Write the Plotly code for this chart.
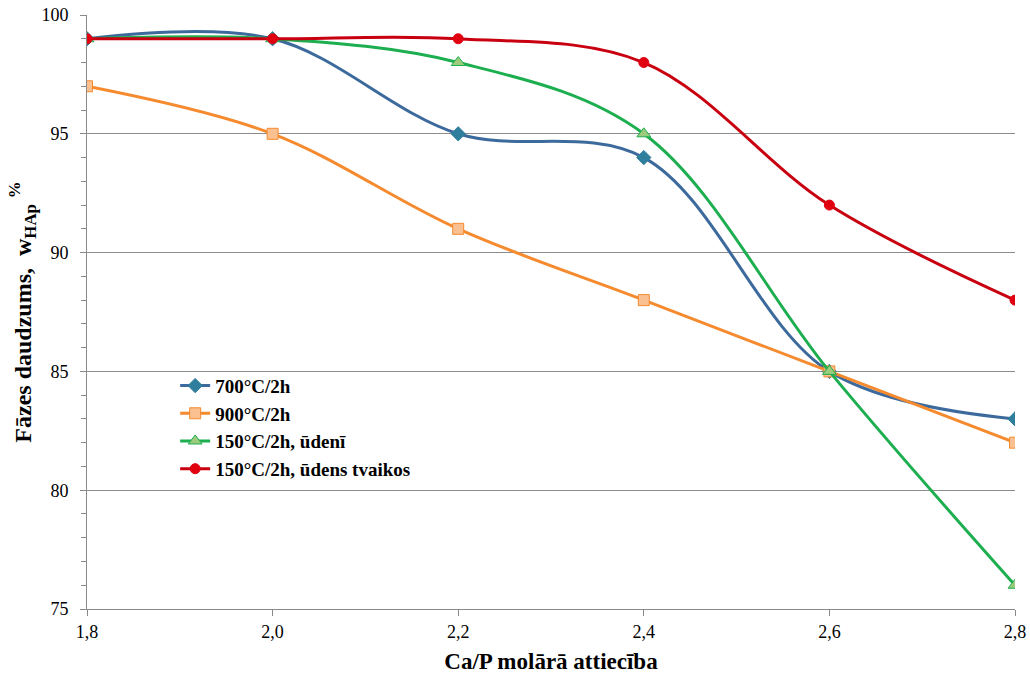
import plotly.graph_objects as go

ca_p = [1.8, 2.0, 2.2, 2.4, 2.6, 2.8]
s700 = [99, 99, 95, 94, 85, 83]
s900 = [97, 95, 91, 88, 85, 82]
s150_water = [99, 99, 98, 95, 85, 76]
s150_steam = [99, 99, 99, 98, 92, 88]

names = ["700°C/2h", "900°C/2h", "150°C/2h, ūdenī", "150°C/2h, ūdens tvaikos"]
series = [s700, s900, s150_water, s150_steam]
line_colors = ["#3C6A9C", "#F58A2E", "#1DAE50", "#C8000F"]
marker_fill = ["#2F7E9E", "#FAC090", "#9BCB7B", "#E00010"]
marker_line = ["#2F7E9E", "#F58A2E", "#1DAE50", "#E00010"]
symbols = ["diamond", "square", "triangle-up", "circle"]
sizes = [11, 11, 12, 10]

fig = go.Figure()
for n, ys, lc, mf, ml, sym, sz in zip(names, series, line_colors, marker_fill, marker_line, symbols, sizes):
    fig.add_trace(go.Scatter(
        x=ca_p, y=ys, name=n, mode="lines+markers",
        line=dict(color=lc, width=3, shape="spline", smoothing=1.0),
        marker=dict(symbol=sym, size=sz, color=mf, line=dict(color=ml, width=1)),
    ))

font_family = "Liberation Serif, Times New Roman, serif"
fig.update_layout(
    width=1030, height=677,
    margin=dict(l=87, r=15, t=15, b=68),
    paper_bgcolor="white", plot_bgcolor="white",
    separators=", ",
    font=dict(family=font_family, color="black", size=18),
    showlegend=True,
    legend=dict(x=0.095, y=0.306, xanchor="left", yanchor="middle",
                font=dict(family=font_family, size=19, color="black", weight="bold"),
                bgcolor="rgba(0,0,0,0)", tracegroupgap=0, itemwidth=30),
    xaxis=dict(
        range=[1.8, 2.8], tickvals=ca_p, tickformat=".1f", automargin=False,
        showgrid=False, showline=True, linecolor="#898989", linewidth=1,
        ticks="outside", ticklen=6, tickcolor="#898989",
        tickfont=dict(family=font_family, size=18, color="black"),
        title=dict(text="Ca/P molārā attiecība", standoff=12,
                   font=dict(family=font_family, size=23, color="black", weight="bold")),
        zeroline=False,
    ),
    yaxis=dict(
        range=[75, 100], tickvals=[75, 80, 85, 90, 95, 100], automargin=False,
        showgrid=True, gridcolor="#8C8C8C", gridwidth=1,
        showline=True, linecolor="#898989", linewidth=1,
        ticks="outside", ticklen=6, tickcolor="#898989", ticklabelstandoff=8,
        minor=dict(dtick=1, ticks="outside", ticklen=5, tickcolor="#898989", showgrid=False),
        tickfont=dict(family=font_family, size=18, color="black"),
        title=dict(text="Fāzes daudzums,  w<sub>HAp</sub> <sup>%</sup>",
                   standoff=3,
                   font=dict(family=font_family, size=24, color="black", weight="bold")),
        zeroline=False,
    ),
)

fig.write_html("out.html")
